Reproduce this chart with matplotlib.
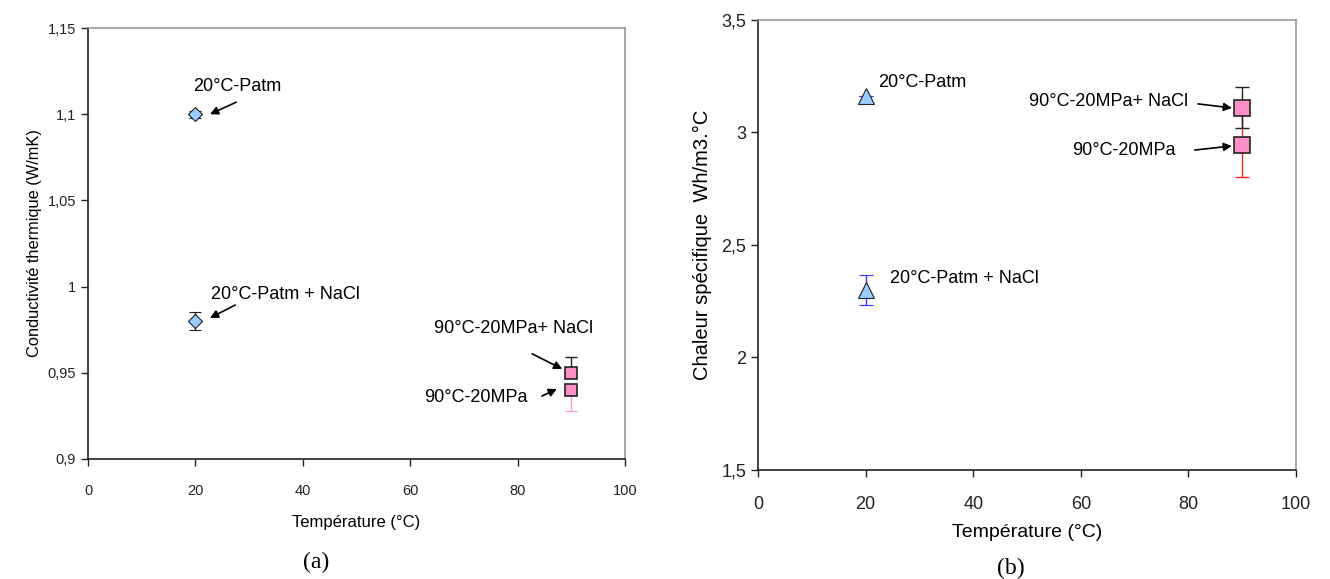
import numpy as np
import matplotlib
matplotlib.use("Agg")
import matplotlib.pyplot as plt
from matplotlib.ticker import FuncFormatter

plt.rcParams['font.family'] = ['Liberation Sans', 'DejaVu Sans']

# donnees (a) conductivite thermique
temp_a = [20, 20, 90, 90]
cond = [1.10, 0.98, 0.95, 0.94]
cond_err_lo = [0.002, 0.005, 0.0, 0.012]
cond_err_hi = [0.002, 0.005, 0.009, 0.0]
labels_a = ["20°C-Patm", "20°C-Patm + NaCl", "90°C-20MPa+ NaCl", "90°C-20MPa"]

# donnees (b) chaleur specifique
temp_b = [20, 20, 90, 90]
cp = [3.16, 2.30, 3.11, 2.945]
cp_err = [0.0, 0.065, 0.09, 0.145]
labels_b = ["20°C-Patm", "20°C-Patm + NaCl", "90°C-20MPa+ NaCl", "90°C-20MPa"]

blue = "#99ccff"
pink = "#ff8fc8"

comma = FuncFormatter(lambda v, p: ("%g" % v).replace(".", ","))

fig = plt.figure(figsize=(13.3, 5.79), dpi=100)
ax1 = fig.add_axes([0.0662, 0.2073, 0.4038, 0.7443])
ax2 = fig.add_axes([0.570, 0.1883, 0.4044, 0.7772])

def style(ax, fs):
    for s in ["top", "right"]:
        ax.spines[s].set_color("#999999")
        ax.spines[s].set_linewidth(1.2)
    for s in ["left", "bottom"]:
        ax.spines[s].set_color("#222222")
        ax.spines[s].set_linewidth(1.2)
    ax.tick_params(direction="out", length=5, width=1, labelsize=fs, colors="#222222")
    ax.yaxis.set_major_formatter(comma)

arr = dict(arrowstyle="-|>", color="black", lw=1.2, mutation_scale=12, shrinkA=0, shrinkB=0)

# (a)
ax1.errorbar(temp_a[:2], cond[:2], yerr=[cond_err_lo[:2], cond_err_hi[:2]], fmt="D",
             ms=7, mfc=blue, mec="#222222", mew=0.8, ecolor="#222222", elinewidth=1, capsize=4)
ax1.errorbar(temp_a[2], cond[2], yerr=[[cond_err_lo[2]], [cond_err_hi[2]]], fmt="none",
             ecolor="#222222", elinewidth=1, capsize=4)
ax1.errorbar(temp_a[3], cond[3], yerr=[[cond_err_lo[3]], [cond_err_hi[3]]], fmt="none",
             ecolor="#ff9ccf", elinewidth=1, capsize=4)
ax1.plot(temp_a[2:], cond[2:], "s", ms=8, mfc=pink, mec="#222222", mew=1.2, zorder=5)
ax1.set_xlim(0, 100)
ax1.set_ylim(0.9, 1.15)
ax1.set_xticks(np.arange(0, 101, 20))
ax1.set_yticks([0.9, 0.95, 1.0, 1.05, 1.1, 1.15])
style(ax1, 10.5)
ax1.tick_params(axis="x", pad=13)
ax1.set_xlabel("Température (°C)", fontsize=12, labelpad=12)
ax1.set_ylabel("Conductivité thermique (W/mK)", fontsize=11.8, labelpad=4)

ax1.text(19.5, 1.1158, labels_a[0], fontsize=13, va="center")
ax1.annotate("", xy=(22.7, 1.100), xytext=(27.6, 1.107), arrowprops=arr)
ax1.text(22.9, 0.9957, labels_a[1], fontsize=13, va="center")
ax1.annotate("", xy=(22.7, 0.9818), xytext=(27.4, 0.9893), arrowprops=arr)
ax1.text(64.4, 0.9754, labels_a[2], fontsize=13, va="center")
ax1.annotate("", xy=(88.3, 0.9522), xytext=(82.7, 0.961), arrowprops=arr)
ax1.text(62.6, 0.9354, labels_a[3], fontsize=13, va="center")
ax1.annotate("", xy=(87.3, 0.9406), xytext=(84.5, 0.9365), arrowprops=arr)

# (b)
ax2.errorbar(temp_b[:2], cp[:2], yerr=cp_err[:2], fmt="^", ms=11, mfc=blue, mec="#222222",
             mew=0.8, ecolor="#3333ff", elinewidth=1, capsize=5)
ax2.errorbar(temp_b[3], cp[3], yerr=cp_err[3], fmt="none", ecolor="#ee2222", elinewidth=1, capsize=5)
ax2.errorbar(temp_b[2], cp[2], yerr=cp_err[2], fmt="none", ecolor="#222222", elinewidth=1, capsize=5)
ax2.plot(temp_b[2:], cp[2:], "s", ms=12, mfc=pink, mec="#222222", mew=1.2, zorder=5)
ax2.set_xlim(0, 100)
ax2.set_ylim(1.5, 3.5)
ax2.set_xticks(np.arange(0, 101, 20))
ax2.set_yticks([1.5, 2, 2.5, 3, 3.5])
style(ax2, 13)
ax2.tick_params(axis="x", pad=14)
ax2.set_xlabel("Température (°C)", fontsize=14, labelpad=8)
ax2.set_ylabel("Chaleur spécifique  Wh/m3.°C", fontsize=14.5, labelpad=7)

ax2.text(22.3, 3.224, labels_b[0], fontsize=13, va="center")
ax2.text(24.5, 2.352, labels_b[1], fontsize=13, va="center")
ax2.text(50.4, 3.136, labels_b[2], fontsize=13, va="center")
ax2.annotate("", xy=(88.1, 3.109), xytext=(81.8, 3.127), arrowprops=arr)
ax2.text(58.4, 2.922, labels_b[3], fontsize=13, va="center")
ax2.annotate("", xy=(88.1, 2.94), xytext=(81.2, 2.922), arrowprops=arr)

# legendes (a) (b)
serif = ["Liberation Serif", "DejaVu Serif"]
fig.text(0.238, 0.019, "(a)", fontsize=17, family=serif, ha="center")
fig.text(0.760, 0.008, "(b)", fontsize=17, family=serif, ha="center")

fig.savefig("out.png", dpi=100)
